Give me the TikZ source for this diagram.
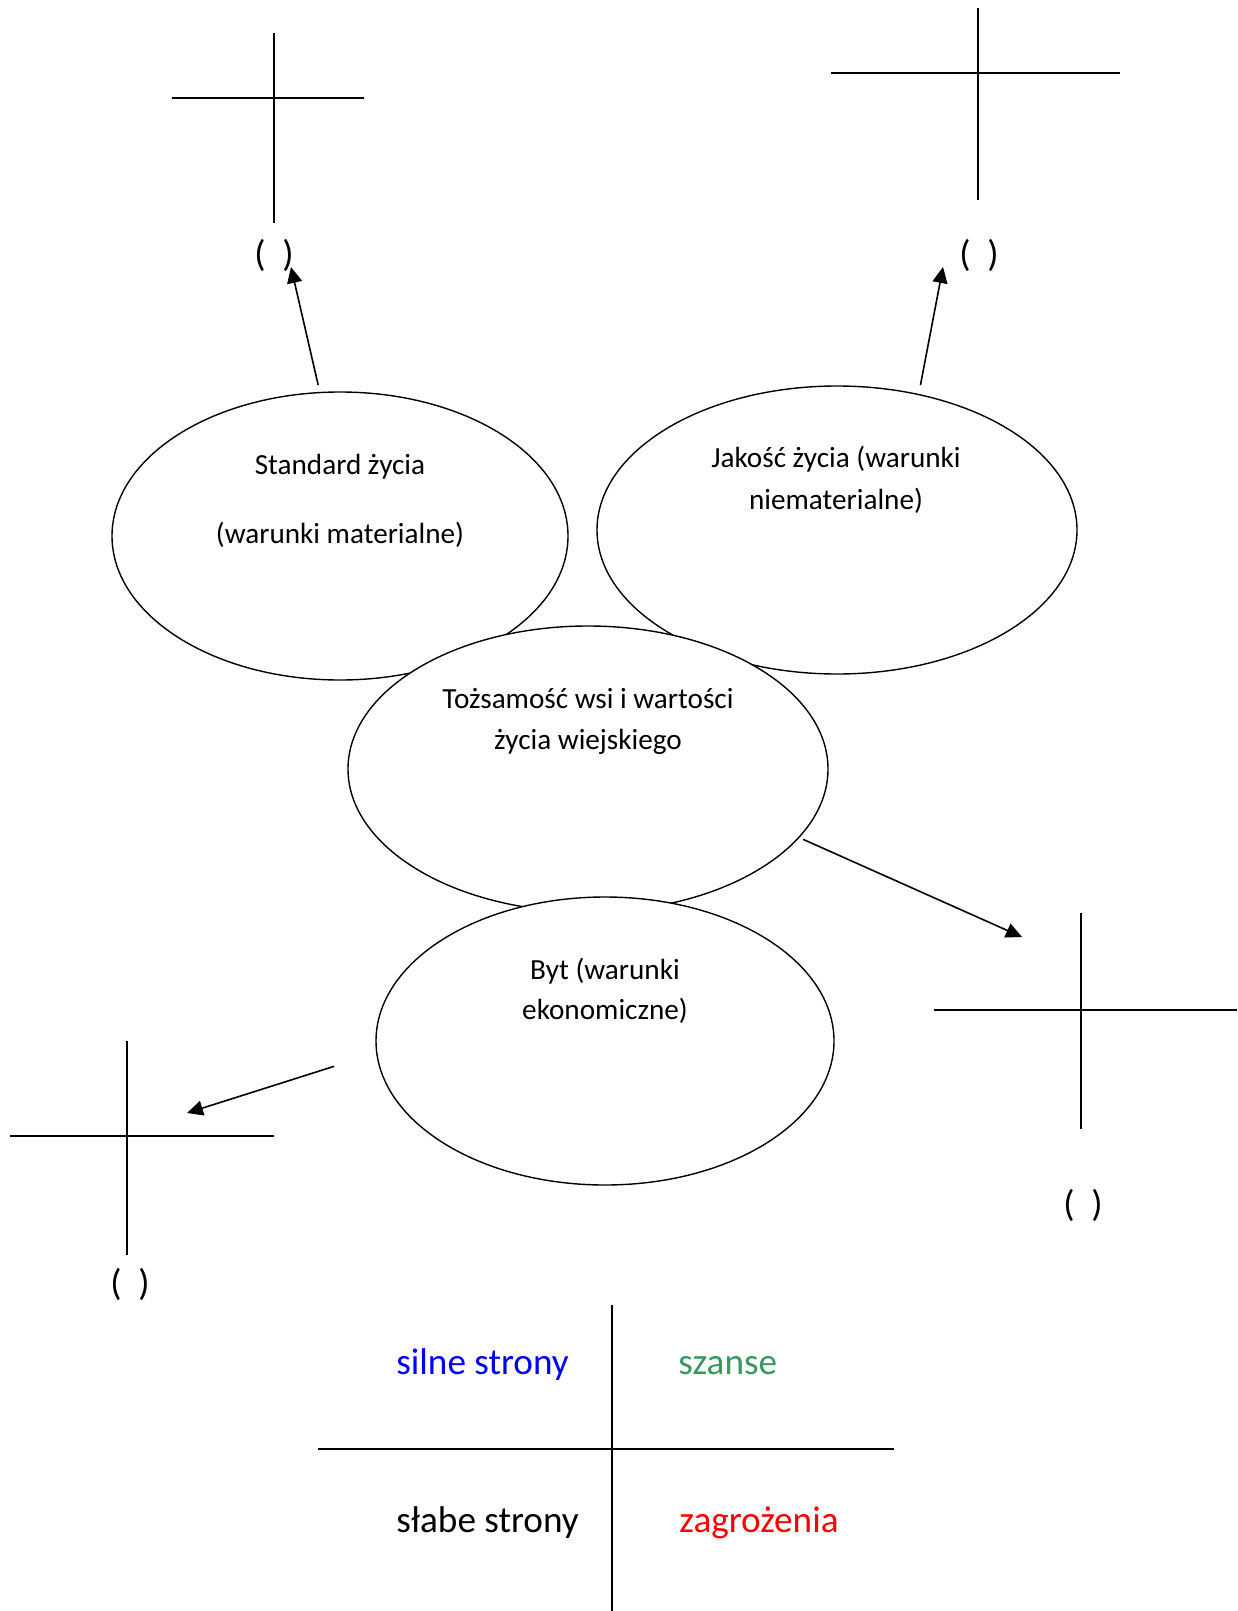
\documentclass[tikz,border=0pt]{standalone}
\usepackage{fontspec}
\setmainfont{Carlito}
\usetikzlibrary{arrows.meta,shapes.geometric}
\definecolor{szansegreen}{RGB}{56,152,96}
\begin{document}
\begin{tikzpicture}[x=0.5pt,y=-0.5pt,
  oval/.style={draw,ellipse,fill=white,line width=0.7pt,inner sep=0pt},
  txt/.style={anchor=base,inner sep=0pt,font=\fontsize{14.6}{17}\selectfont},
  big/.style={anchor=base,inner sep=0pt,font=\fontsize{18.6}{22}\selectfont},
  crossline/.style={line width=0.9pt},
  arr/.style={-{Triangle[length=8pt,width=7.5pt]},line width=0.8pt}]
\useasboundingbox (0,0) rectangle (1237,1611);
% crosses
\draw[crossline] (274,33) -- (274,223) (172,98) -- (364,98);
\draw[crossline] (978,8) -- (978,200) (831,73) -- (1120,73);
\draw[crossline] (1081,913) -- (1081,1129) (934,1010) -- (1237,1010);
\draw[crossline] (127,1041) -- (127,1255) (10,1136) -- (274,1136);
\draw[crossline] (612,1305) -- (612,1611) (318,1449) -- (894,1449);
\node[big] (parA) at (274,266) {(~~)};
\node[big] (parB) at (979,266) {(~~)};
\node[big] (parC) at (1083,1216) {(~~)};
\node[big] (parD) at (130,1295) {(~~)};
% ellipses
\node[oval,minimum width=228pt,minimum height=144pt] (standard) at (340,536) {};
\node[oval,minimum width=240pt,minimum height=144pt] (jakosc) at (837,530) {};
\node[oval,minimum width=240pt,minimum height=143pt] (tozsamosc) at (588,769) {};
\node[oval,minimum width=229pt,minimum height=144pt] (byt) at (605,1041) {};
\node[txt] (standard1) at (340,474) {Standard życia};
\node[txt] (standard2) at (340,543) {(warunki materialne)};
\node[txt] (jakosc1) at (836,467) {Jakość życia (warunki};
\node[txt] (jakosc2) at (836,509) {niematerialne)};
\node[txt] (tozsamosc1) at (588,708) {Tożsamość wsi i wartości};
\node[txt] (tozsamosc2) at (588,749) {życia wiejskiego};
\node[txt] (byt1) at (605,979) {Byt (warunki};
\node[txt] (byt2) at (605,1019) {ekonomiczne)};
% arrows
\coordinate (tipA) at (291,267);
\coordinate (tipB) at (943,267);
\coordinate (tipC) at (1022,937);
\coordinate (tipD) at (187,1113);
\draw[arr,shorten <=3.5pt] (standard.98) -- (tipA);
\draw[arr,shorten <=4.5pt] (jakosc.59) -- (tipB);
\draw[arr,shorten <=2pt] (tozsamosc.-18) -- (tipC);
\draw[arr,shorten <=22pt] (byt.183) -- (tipD);
% swot
\node[big,anchor=base west,text=blue] (silne) at (396,1374) {silne strony};
\node[big,anchor=base west,text=szansegreen] (szanse) at (678,1374) {szanse};
\node[big,anchor=base west] (slabe) at (396,1532) {słabe strony};
\node[big,anchor=base west,text=red] (zagrozenia) at (679,1532) {zagrożenia};
\end{tikzpicture}
\end{document}
